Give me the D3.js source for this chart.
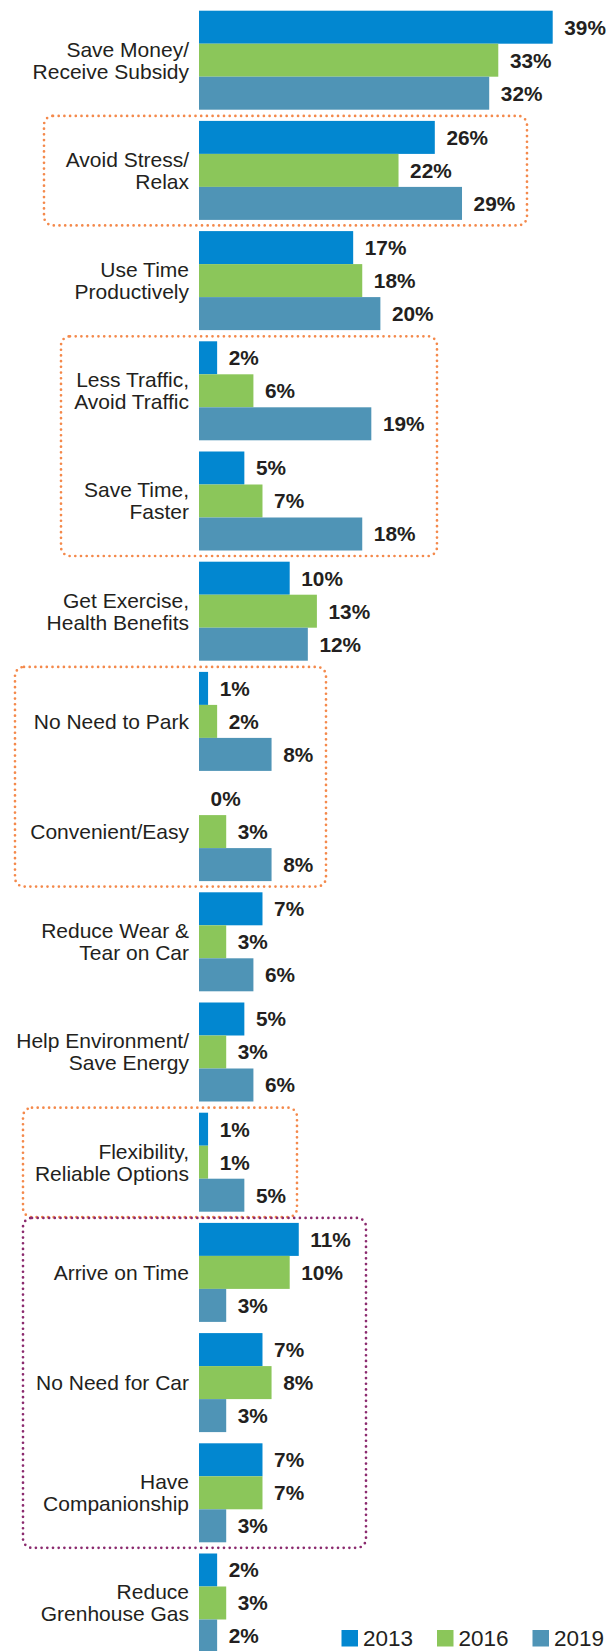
<!DOCTYPE html>
<html>
<head>
<meta charset="utf-8">
<script src="https://cdn.jsdelivr.net/npm/d3@7"></script>
<style>
  html, body { margin: 0; padding: 0; background: #ffffff; }
  svg { display: block; }
  text { font-family: "Liberation Sans", Arial, sans-serif; fill: #231f20; }
</style>
</head>
<body>
<svg id="chart" width="609" height="1651"></svg>
<script>
// Reasons for choosing the commute mode, share of respondents by survey year
const categories = [
  "Save Money/\nReceive Subsidy",
  "Avoid Stress/\nRelax",
  "Use Time\nProductively",
  "Less Traffic,\nAvoid Traffic",
  "Save Time,\nFaster",
  "Get Exercise,\nHealth Benefits",
  "No Need to Park",
  "Convenient/Easy",
  "Reduce Wear &\nTear on Car",
  "Help Environment/\nSave Energy",
  "Flexibility,\nReliable Options",
  "Arrive on Time",
  "No Need for Car",
  "Have\nCompanionship",
  "Reduce\nGrenhouse Gas"
];
const years = ["2013", "2016", "2019"];
const values2013 = [39, 26, 17, 2, 5, 10, 1, 0, 7, 5, 1, 11, 7, 7, 2];
const values2016 = [33, 22, 18, 6, 7, 13, 2, 3, 3, 3, 1, 10, 8, 7, 3];
const values2019 = [32, 29, 20, 19, 18, 12, 8, 8, 6, 6, 5, 3, 3, 3, 2];
const seriesColors = ["#0287d0", "#8bc65a", "#4f94b6"];

// Highlight frames grouping related reasons
const frames = [
  { members: ["Avoid Stress/\nRelax"], color: "#f4894b", left: 44, right: 527 },
  { members: ["Less Traffic,\nAvoid Traffic", "Save Time,\nFaster"], color: "#f4894b", left: 61, right: 437 },
  { members: ["No Need to Park", "Convenient/Easy"], color: "#f4894b", left: 15, right: 326 },
  { members: ["Flexibility,\nReliable Options"], color: "#f4894b", left: 23, right: 297 },
  { members: ["Arrive on Time", "No Need for Car", "Have\nCompanionship"], color: "#8b2a6e", left: 23, right: 366 }
];

const seriesValues = [values2013, values2016, values2019];
const rows = categories.map((c, i) => ({
  category: c,
  bars: years.map((y, j) => ({ year: y, value: seriesValues[j][i], color: seriesColors[j] }))
}));

const svg = d3.select("#chart");

const x = d3.scaleLinear().domain([0, 39]).range([199, 552.7]);

const step = 110.2;
const pInner = 11.2 / step;
const y = d3.scaleBand()
  .domain(categories)
  .range([10.7 - step * pInner / 2, 10.7 - step * pInner / 2 + step * categories.length])
  .paddingInner(pInner)
  .paddingOuter(pInner / 2);

const ySub = d3.scaleBand().domain(years).range([0, y.bandwidth()]).padding(0);

// Frames drawn first so bars sit on top
svg.append("g").selectAll("rect")
  .data(frames)
  .join("rect")
  .attr("x", d => d.left)
  .attr("y", d => y(d.members[0]) - 5)
  .attr("width", d => d.right - d.left)
  .attr("height", d => y(d.members[d.members.length - 1]) + y.bandwidth() + 5.5 - (y(d.members[0]) - 5))
  .attr("rx", 9).attr("ry", 9)
  .attr("fill", "none")
  .attr("stroke", d => d.color)
  .attr("stroke-width", 2.7)
  .attr("stroke-linecap", "round")
  .attr("stroke-dasharray", "0 5.7");

const groups = svg.append("g").selectAll("g")
  .data(rows)
  .join("g")
  .attr("transform", d => `translate(0,${y(d.category)})`);

groups.selectAll("rect")
  .data(d => d.bars)
  .join("rect")
  .attr("x", x(0))
  .attr("y", d => ySub(d.year))
  .attr("width", d => x(d.value) - x(0))
  .attr("height", ySub.bandwidth())
  .attr("fill", d => d.color);

groups.selectAll("text.value")
  .data(d => d.bars)
  .join("text")
  .attr("class", "value")
  .attr("x", d => x(d.value) + 11.6)
  .attr("y", d => ySub(d.year) + ySub.bandwidth() / 2)
  .attr("dy", "0.36em")
  .style("font-size", "20.8px")
  .style("font-weight", "bold")
  .text(d => d.value + "%");

// Category labels, right-aligned against the bars
const lineH = 22;
groups.append("text")
  .attr("class", "cat")
  .attr("text-anchor", "end")
  .style("font-size", "21px")
  .each(function(d) {
    const lines = d.category.split("\n");
    const mid = y.bandwidth() / 2;
    d3.select(this).selectAll("tspan")
      .data(lines)
      .join("tspan")
      .attr("x", x(0) - 10)
      .attr("y", (l, k) => mid + (k - (lines.length - 1) / 2) * lineH)
      .attr("dy", "0.35em")
      .text(l => l);
  });

// Legend along the bottom edge
const legendX = d3.scalePoint().domain(years).range([341.5, 532.5]);
const legend = svg.append("g").selectAll("g")
  .data(years)
  .join("g")
  .attr("transform", d => `translate(${legendX(d)},1630)`);
legend.append("rect")
  .attr("width", 16.5).attr("height", 16.5)
  .attr("fill", (d, i) => seriesColors[i]);
legend.append("text")
  .attr("x", 21.5).attr("y", 16)
  .style("font-size", "22.5px")
  .text(d => d);
</script>
</body>
</html>
